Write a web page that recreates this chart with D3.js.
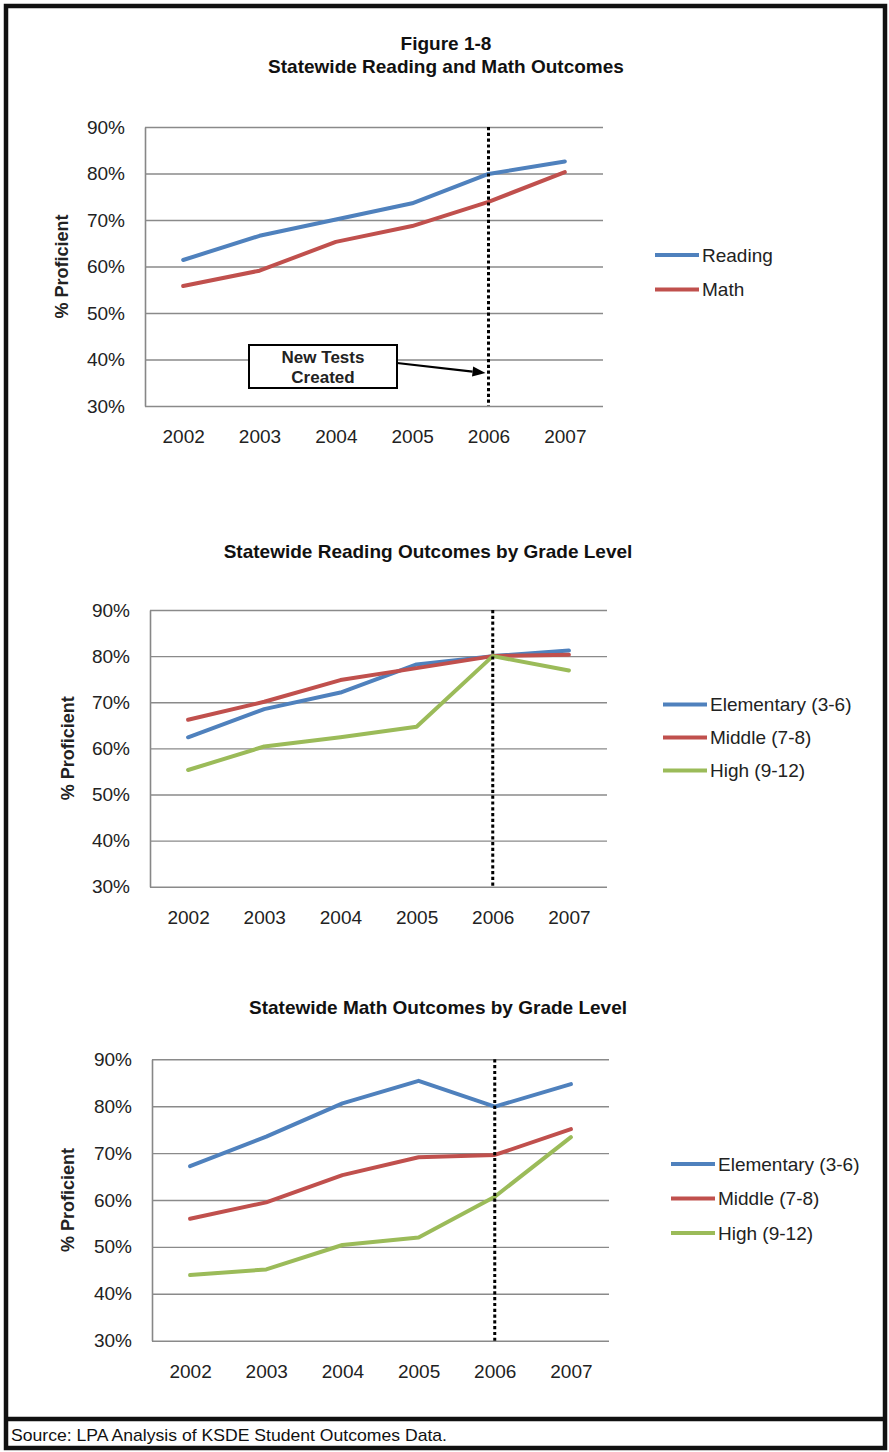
<!DOCTYPE html>
<html>
<head>
<meta charset="utf-8">
<script src="https://cdn.jsdelivr.net/npm/d3@7"></script>
<style>
  html, body { margin: 0; padding: 0; background: #fff; }
  svg { display: block; font-family: "Liberation Sans", Arial, sans-serif; }
</style>
</head>
<body>
<svg id="fig" width="889" height="1452"></svg>
<script>
// Years on the horizontal axis
const years = ["2002", "2003", "2004", "2005", "2006", "2007"];
// Year the new tests were introduced
const newTestYear = "2006";
// Percent-proficient tick values
const yTicks = [30, 40, 50, 60, 70, 80, 90];

// Statewide reading and math outcomes (% proficient)
const readingAll = [61.4, 66.6, 70.1, 73.6, 79.9, 82.6];
const mathAll    = [55.8, 59.1, 65.3, 68.7, 73.9, 80.3];

// Reading outcomes by grade level
const readingElementary = [62.4, 68.5, 72.1, 78.2, 80.0, 81.2];
const readingMiddle     = [66.2, 70.1, 74.8, 77.4, 80.0, 80.3];
const readingHigh       = [55.3, 60.4, 62.4, 64.7, 80.0, 76.9];

// Math outcomes by grade level
const mathElementary = [67.2, 73.5, 80.6, 85.4, 79.9, 84.7];
const mathMiddle     = [56.0, 59.5, 65.3, 69.1, 69.6, 75.1];
const mathHigh       = [44.0, 45.2, 50.4, 52.0, 60.7, 73.4];

const BLUE = "#4F81BD", RED = "#C0504D", GREEN = "#9BBB59";
const TEXT = "#222";

const svg = d3.select("#fig");

// Page frame
svg.append("rect").attr("x", 6).attr("y", 6).attr("width", 879).attr("height", 1442)
  .attr("fill", "none").attr("stroke", "#111").attr("stroke-width", 4.5);
svg.append("line").attr("x1", 6).attr("x2", 885).attr("y1", 1419).attr("y2", 1419)
  .attr("stroke", "#111").attr("stroke-width", 4.5);
svg.append("text").attr("x", 11).attr("y", 1441)
  .attr("font-size", 17).attr("fill", "#111")
  .attr("textLength", 436).attr("lengthAdjust", "spacingAndGlyphs")
  .text("Source:  LPA Analysis of KSDE Student Outcomes Data.");

function drawChart(cfg) {
  const g = svg.append("g");
  const x = d3.scalePoint().domain(years).range([cfg.left, cfg.right]).padding(0.5);
  const y = d3.scaleLinear().domain([30, 90]).range([cfg.bottom, cfg.top]);

  // Titles
  cfg.titles.forEach(t => {
    g.append("text").attr("x", cfg.titleX).attr("y", t.y)
      .attr("text-anchor", "middle").attr("font-size", 19).attr("font-weight", "bold")
      .attr("fill", "#111").text(t.text);
  });

  // Y axis with gridlines
  const yAxis = g.append("g").attr("transform", `translate(${cfg.left},0)`)
    .call(d3.axisLeft(y).tickValues(yTicks).tickFormat(d => d + "%")
      .tickSize(-(cfg.right - cfg.left)).tickSizeOuter(0).tickPadding(20));
  yAxis.select(".domain").attr("stroke", "#878787").attr("stroke-width", 1.6);
  yAxis.selectAll(".tick line").attr("stroke", "#8a8a8a").attr("stroke-width", 1.4);
  yAxis.selectAll(".tick text").attr("font-size", 19).attr("fill", TEXT)
    .attr("font-family", "Liberation Sans, Arial, sans-serif");

  // X axis labels
  const xAxis = g.append("g").attr("transform", `translate(0,${cfg.bottom})`)
    .call(d3.axisBottom(x).tickSize(0).tickPadding(24));
  xAxis.select(".domain").remove();
  xAxis.selectAll(".tick text").attr("font-size", 19).attr("fill", TEXT)
    .attr("font-family", "Liberation Sans, Arial, sans-serif");

  // Axis title
  g.append("text")
    .attr("transform", `translate(${cfg.yTitleX},${(cfg.top + cfg.bottom) / 2}) rotate(-90)`)
    .attr("text-anchor", "middle").attr("dy", "0.35em")
    .attr("font-size", 18).attr("font-weight", "bold").attr("fill", TEXT)
    .text("% Proficient");

  // Series lines
  const line = d3.line().x((d, i) => x(years[i])).y(d => y(d));
  cfg.series.forEach(s => {
    g.append("path").datum(s.values)
      .attr("d", line).attr("fill", "none")
      .attr("stroke", s.color).attr("stroke-width", 4)
      .attr("stroke-linecap", "round").attr("stroke-linejoin", "round");
  });

  // New-test marker
  g.append("line")
    .attr("x1", x(newTestYear)).attr("x2", x(newTestYear))
    .attr("y1", cfg.top).attr("y2", cfg.bottom)
    .attr("stroke", "#000").attr("stroke-width", 3).attr("stroke-dasharray", "3.2,2.6");

  // Legend
  cfg.series.forEach((s, i) => {
    const ly = cfg.legend.y + i * cfg.legend.step;
    g.append("line").attr("x1", cfg.legend.x).attr("x2", cfg.legend.x + 44)
      .attr("y1", ly).attr("y2", ly)
      .attr("stroke", s.color).attr("stroke-width", 4);
    g.append("text").attr("x", cfg.legend.x + 47).attr("y", ly).attr("dy", "0.35em")
      .attr("font-size", 19).attr("fill", TEXT).text(s.name);
  });

  return { g, x, y };
}

// Chart 1: overall reading and math
const c1 = drawChart({
  left: 145, right: 603, top: 127, bottom: 406,
  titleX: 446,
  titles: [{ text: "Figure 1-8", y: 50 }, { text: "Statewide Reading and Math Outcomes", y: 73 }],
  yTitleX: 62,
  series: [
    { name: "Reading", values: readingAll, color: BLUE },
    { name: "Math", values: mathAll, color: RED }
  ],
  legend: { x: 655, y: 255, step: 34.5 }
});

// Annotation for the new tests: boxed label with an arrow to the marker line
(function () {
  const g = c1.g;
  const bx = 249, by = 345, bw = 148, bh = 43;
  const x0 = bx + bw, y0 = 363;
  const x1 = c1.x(newTestYear) - 3, y1 = 373;
  const ang = Math.atan2(y1 - y0, x1 - x0);
  const headLen = 13, headHalf = 5;
  const bxp = x1 - headLen * Math.cos(ang), byp = y1 - headLen * Math.sin(ang);
  g.append("line")
    .attr("x1", x0).attr("y1", y0).attr("x2", bxp).attr("y2", byp)
    .attr("stroke", "#000").attr("stroke-width", 2.2);
  g.append("path")
    .attr("d", `M${x1},${y1}` +
      `L${bxp - headHalf * Math.sin(ang)},${byp + headHalf * Math.cos(ang)}` +
      `L${bxp + headHalf * Math.sin(ang)},${byp - headHalf * Math.cos(ang)}Z`)
    .attr("fill", "#000");
  g.append("rect").attr("x", bx).attr("y", by).attr("width", bw).attr("height", bh)
    .attr("fill", "#fff").attr("stroke", "#000").attr("stroke-width", 2);
  g.append("text").attr("x", bx + bw / 2).attr("y", 363).attr("text-anchor", "middle")
    .attr("font-size", 17).attr("font-weight", "bold").attr("fill", TEXT).text("New Tests");
  g.append("text").attr("x", bx + bw / 2).attr("y", 383).attr("text-anchor", "middle")
    .attr("font-size", 17).attr("font-weight", "bold").attr("fill", TEXT).text("Created");
})();

// Chart 2: reading by grade level
drawChart({
  left: 150, right: 607, top: 610, bottom: 886.7,
  titleX: 428,
  titles: [{ text: "Statewide Reading Outcomes by Grade Level", y: 558 }],
  yTitleX: 68,
  series: [
    { name: "Elementary (3-6)", values: readingElementary, color: BLUE },
    { name: "Middle (7-8)", values: readingMiddle, color: RED },
    { name: "High (9-12)", values: readingHigh, color: GREEN }
  ],
  legend: { x: 663, y: 704.5, step: 33 }
});

// Chart 3: math by grade level
drawChart({
  left: 152, right: 609, top: 1059.3, bottom: 1340.7,
  titleX: 438,
  titles: [{ text: "Statewide Math Outcomes by Grade Level", y: 1014 }],
  yTitleX: 68,
  series: [
    { name: "Elementary (3-6)", values: mathElementary, color: BLUE },
    { name: "Middle (7-8)", values: mathMiddle, color: RED },
    { name: "High (9-12)", values: mathHigh, color: GREEN }
  ],
  legend: { x: 671, y: 1164, step: 34.5 }
});
</script>
</body>
</html>
